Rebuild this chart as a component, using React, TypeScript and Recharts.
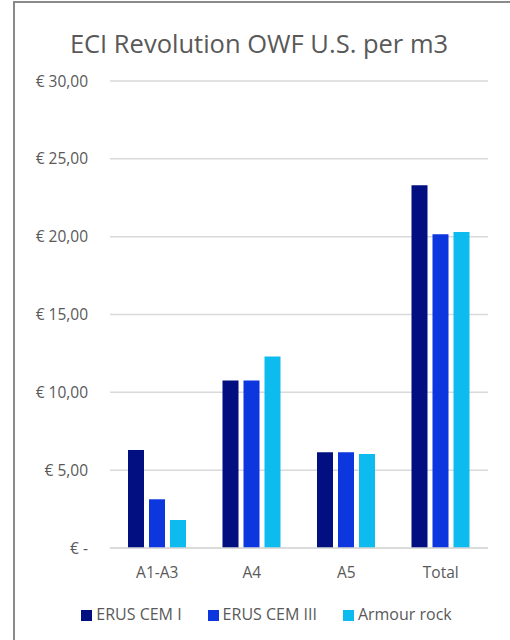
import React from "react";
import { BarChart, Bar, XAxis, YAxis, CartesianGrid, Legend } from "recharts";

const categories = ["A1-A3", "A4", "A5", "Total"];
const cemI = [6.3, 10.76, 6.15, 23.3];
const cemIII = [3.13, 10.76, 6.15, 20.15];
const armourRock = [1.8, 12.3, 6.04, 20.3];
const yTicks = [0, 5, 10, 15, 20, 25, 30];
const seriesNames = ["ERUS CEM I", "ERUS CEM III", "Armour rock"];

const data = categories.map((name, i) => ({
    name,
    cemI: cemI[i],
    cemIII: cemIII[i],
    armourRock: armourRock[i],
}));

const font = "'Open Sans', 'Liberation Sans', sans-serif";
const textGray = "#595959";

const formatEuro = (v: number) => (v === 0 ? "€ -" : "€ " + v.toFixed(2).replace(".", ","));

export default function App() {
    return (
        <div style={{ position: "absolute", left: 0, top: 0, width: 510, height: 640, overflow: "hidden", background: "#fff", fontFamily: font }}>
            <div style={{ position: "absolute", left: 13, top: 1, width: 520, height: 660, border: "2px solid #8a8a8a" }} />
            <div style={{ position: "absolute", left: 14, width: 490, top: 26, textAlign: "center", fontSize: 25.5, color: textGray }}>
                ECI Revolution OWF U.S. per m3
            </div>
            <div style={{ position: "absolute", left: 0, top: 0 }}>
                <BarChart
                    width={510}
                    height={640}
                    data={data}
                    margin={{ top: 81, right: 22, bottom: 15, left: 10 }}
                    barCategoryGap="19%"
                    barGap={5}
                >
                    <CartesianGrid vertical={false} stroke="#d9d9d9" strokeWidth={1.5} />
                    <XAxis
                        dataKey="name"
                        axisLine={{ stroke: "#d9d9d9", strokeWidth: 1.5 }}
                        tickLine={false}
                        tickSize={0}
                        tickMargin={19}
                        height={55}
                        tick={{ fill: textGray, fontSize: 15.5, fontFamily: font }}
                    />
                    <YAxis
                        domain={[0, 30]}
                        ticks={yTicks}
                        width={100}
                        axisLine={false}
                        tickLine={false}
                        tickSize={0}
                        tickMargin={22}
                        tickFormatter={formatEuro}
                        tick={{ fill: textGray, fontSize: 15.5, fontFamily: font }}
                    />
                    <Legend
                        verticalAlign="bottom"
                        iconType="square"
                        iconSize={11}
                        itemSorter={(item: any) => seriesNames.indexOf(item.value)}
                        wrapperStyle={{ fontSize: 16, fontFamily: font, left: 33, width: 477 }}
                        formatter={(value: string, _entry: any, index: number) => (
                            <span style={{ color: textGray, marginRight: index < 2 ? 16 : 0 }}>{value}</span>
                        )}
                    />
                    <Bar dataKey="cemI" name={seriesNames[0]} fill="#010F80" barSize={16} isAnimationActive={false} />
                    <Bar dataKey="cemIII" name={seriesNames[1]} fill="#0C36DE" barSize={16} isAnimationActive={false} />
                    <Bar dataKey="armourRock" name={seriesNames[2]} fill="#0EBBEF" barSize={16} isAnimationActive={false} />
                </BarChart>
            </div>
        </div>
    );
}
